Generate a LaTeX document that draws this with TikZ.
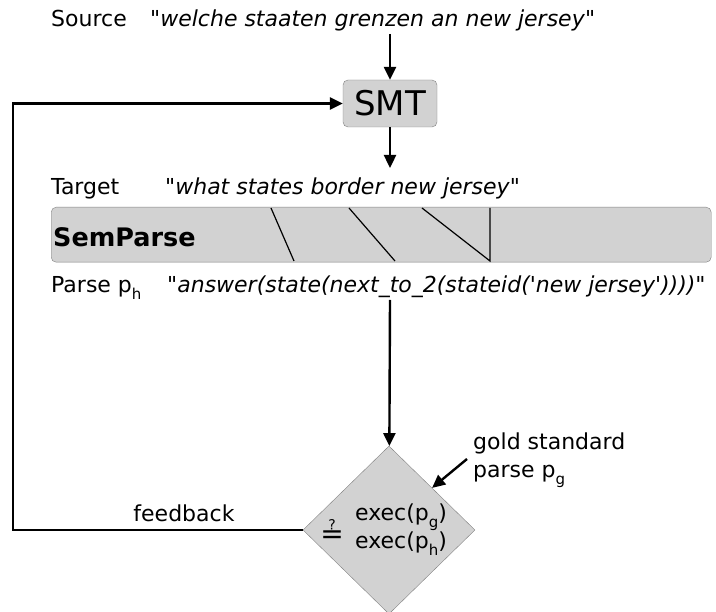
\documentclass[tikz,border=0pt]{standalone}
\usepackage{fontspec}
\setmainfont{DejaVu Sans}
\usetikzlibrary{shapes.geometric,arrows.meta,calc}
\newcommand{\lowsub}[1]{\raisebox{-0.5ex}{\fontsize{15}{15}\selectfont #1}}
\newcommand{\qq}{\textquotedbl}

\begin{document}
\begin{tikzpicture}[x=1pt,y=-1pt,
  boxstyle/.style={draw=gray,fill=gray!35,rounded corners=5pt},
  flow/.style={-{Triangle[length=13pt,width=12pt]},line width=2.4pt},
  lbl/.style={font=\fontsize{22}{26}\selectfont,inner sep=0pt}]

 \useasboundingbox (0,0) rectangle (716,612);

 % source sentence and SMT
 \node[lbl,anchor=base west] (src) at (51,27) {Source};
 \node[lbl,anchor=base west] (srcq) at (150,27) {\qq\textit{welche staaten grenzen an new jersey}\qq};
 \coordinate (srcout) at (390,34);
 \node[boxstyle,minimum width=94,minimum height=47,inner sep=0pt,font=\fontsize{34}{36}\selectfont] (smt) at (390,103.5) {SMT};
 \coordinate (smtout) at (390,168);
 \draw[flow] (srcout) -- (smt);
 \draw[flow] (smt) -- (smtout);

 % target sentence and semantic parser
 \node[lbl,anchor=base west] (tgt) at (51,195) {Target};
 \node[lbl,anchor=base west] (tgtq) at (165,195) {\qq\textit{what states border new jersey}\qq};
 \node[boxstyle,anchor=north west,minimum width=660,minimum height=55] (sem) at (51,207) {};
 \node[anchor=base west,inner sep=0pt,font=\bfseries\fontsize{25.5}{28}\selectfont] (semlbl) at (53,247) {SemParse};
 \draw[line width=1.2pt] (271,208) -- (294,261)
              (349,208) -- (395,261)
              (422,208) -- (490,261) -- (490,208);

 % parse of the target
 \node[lbl,anchor=base west] (prs) at (51,293) {Parse p\lowsub{h}};
 \node[lbl,anchor=base west] (prsq) at (167,293) {\qq\textit{answer(state(next\_to\_2(stateid(\textquotesingle new jersey\textquotesingle))))}\qq};
 \coordinate (prsout) at (390,300);

 % comparison against gold standard
 \node[diamond,draw=gray,fill=gray!35,minimum width=172,minimum height=168,inner sep=0pt] (diam) at (389,530) {};
 \node[lbl,align=left,anchor=base west] (exec) at (355,549) {exec(p\lowsub{g})\\[2pt]exec(p\lowsub{h})};
 \node[lbl,anchor=center,font=\fontsize{28}{30}\selectfont] (eq) at (332,532) {≟};
 \draw[flow] (prsout) -- (diam);
 \node[lbl,align=left,anchor=base west] (gold) at (473,478) {gold standard\\[2pt]parse p\lowsub{g}};
 \coordinate (goldtail) at (467,459);
 \draw[flow] (goldtail) -- ($(diam.north)!0.5!(diam.east)$);

 % feedback loop
 \draw[flow] (diam.west) -- ++(-290,0) |- (smt.west);
 \node[lbl,anchor=base] (fb) at (184,522) {feedback};
\end{tikzpicture}
\end{document}
